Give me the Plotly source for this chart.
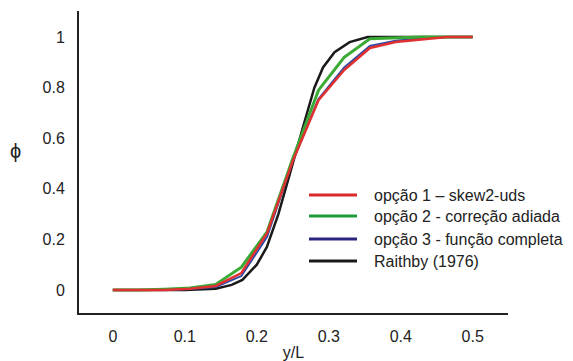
import plotly.graph_objects as go

# grid points (y/L)
x_num = [0, 1/28, 2/28, 3/28, 4/28, 5/28, 6/28, 7/28, 8/28, 9/28, 10/28, 11/28, 12/28, 13/28, 14/28]

opt1 = [0, 0, 0, 0.005, 0.016, 0.067, 0.225, 0.51, 0.75, 0.87, 0.957, 0.98, 0.99, 1.0, 1.0]
opt2 = [0, 0, 0.003, 0.008, 0.022, 0.09, 0.23, 0.52, 0.79, 0.92, 0.993, 0.998, 1.0, 1.0, 1.0]
opt3 = [0, 0, 0, 0.004, 0.012, 0.055, 0.21, 0.51, 0.755, 0.88, 0.965, 0.985, 0.995, 1.0, 1.0]

x_ref = [0, 0.1, 0.143, 0.165, 0.18, 0.2, 0.214, 0.23, 0.245, 0.256, 0.267, 0.28, 0.292, 0.308, 0.329, 0.354, 0.4, 0.45, 0.5]
raithby = [0, 0, 0.005, 0.02, 0.04, 0.1, 0.17, 0.3, 0.45, 0.565, 0.672, 0.8, 0.88, 0.94, 0.98, 1.0, 1.0, 1.0, 1.0]

names = ["opção 1 – skew2-uds", "opção 2 - correção adiada", "opção 3 - função completa", "Raithby (1976)"]
legend_colors = ["#d92b2b", "#1e9a3c", "#2a2680", "#1a1a1a"]
trace_colors = ["#e03030", "#3aaa35", "#2a4aa8", "#1a1a1a"]
widths = [2.5, 3, 2, 2.5]

x_ticks = [0, 0.1, 0.2, 0.3, 0.4, 0.5]
y_ticks = [0, 0.2, 0.4, 0.6, 0.8, 1]

# page body adds an 8px offset; work in figure coordinates
OFF = 8
W, H = 573 - OFF, 361 - OFF
plot_l, plot_r = 79 - OFF, 508 - OFF
plot_top, plot_bot = 11 - OFF, 313 - OFF

fig = go.Figure()
# draw order: black beneath, then blue, green, red on top
series = [(x_ref, raithby, 3), (x_num, opt3, 2), (x_num, opt2, 1), (x_num, opt1, 0)]
for xs, ys, i in series:
    fig.add_trace(go.Scatter(x=xs, y=ys, mode="lines", name=names[i],
                             line=dict(color=trace_colors[i], width=widths[i]),
                             showlegend=False))

def px(xs):
    return (xs - OFF - plot_l) / (plot_r - plot_l)

def py(ys):
    return (plot_bot - (ys - OFF)) / (plot_bot - plot_top)

# manual legend
leg_y = [195, 216, 239, 261]
for i in range(4):
    fig.add_shape(type="line", xref="paper", yref="paper",
                  x0=px(309), x1=px(357), y0=py(leg_y[i]), y1=py(leg_y[i]),
                  line=dict(color=legend_colors[i], width=3))
    fig.add_annotation(text=names[i], xref="paper", yref="paper",
                       x=px(372), y=py(leg_y[i]), xanchor="left", yanchor="middle",
                       showarrow=False, font=dict(size=16, color="#222"))

# y-axis title glyph
fig.add_annotation(text="ϕ", xref="paper", yref="paper", x=px(15), y=py(151),
                   xanchor="center", yanchor="middle",
                   showarrow=False, font=dict(size=20, color="#222"))

fig.update_layout(
    width=W, height=H,
    margin=dict(l=plot_l, r=W - plot_r, t=plot_top, b=H - plot_bot),
    paper_bgcolor="white", plot_bgcolor="white",
    font=dict(family="Liberation Sans, Arial, sans-serif", size=16, color="#222"),
    showlegend=False,
)
fig.update_xaxes(range=[-0.047, 0.549], tickvals=x_ticks, showgrid=False, zeroline=False,
                 showline=True, linecolor="#222", linewidth=2, ticks="", ticklabelstandoff=8,
                 automargin=False,
                 title=dict(text="y/L", standoff=8, font=dict(size=16)))
fig.update_yaxes(range=[-0.091, 1.103], tickvals=y_ticks, showgrid=False, zeroline=False,
                 showline=True, linecolor="#222", linewidth=2, ticks="", ticklabelstandoff=9,
                 automargin=False)

fig.write_html("out.html")
